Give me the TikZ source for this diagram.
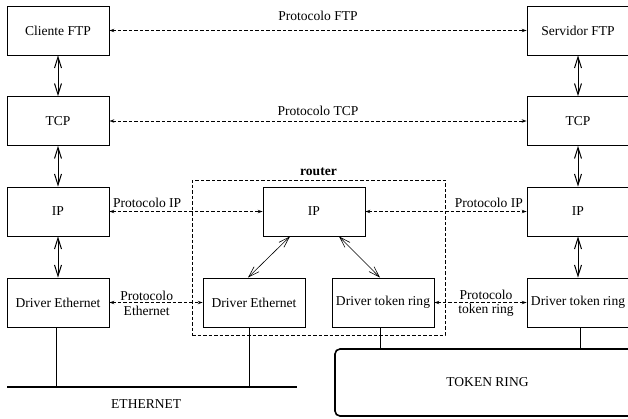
\documentclass[tikz,border=0pt]{standalone}
\usepackage{fontspec}
\setmainfont{Liberation Serif}
\usepackage{tikz}
\usetikzlibrary{arrows.meta}
\newcommand{\figfont}{\fontsize{13.6}{14.5}\selectfont}

\begin{document}
\begin{tikzpicture}[x=1bp, y=-1bp, font=\figfont,
    layer/.style={draw, line width=0.8bp, minimum width=102bp, minimum height=49bp,
                  inner sep=0pt, align=center},
    stack/.style={line width=1bp,
                  {Straight Barb[length=11bp,width=7bp]}-{Straight Barb[length=11bp,width=7bp]}},
    peer/.style={line width=0.8bp, dash pattern=on 3.5bp off 2bp,
                 {Stealth[open,length=5bp,width=3.5bp]}-{Stealth[open,length=5bp,width=3.5bp]}},
    link/.style={line width=0.8bp}]
  \useasboundingbox (0,0) rectangle (628,418);

  % host cliente
  \node[layer] (cliente) at (58,30.5) {Cliente FTP};
  \node[layer] (tcpA) at (58,121) {TCP};
  \node[layer] (ipA) at (58,211.5) {IP};
  \node[layer] (drvA) at (58,302.5) {Driver Ethernet};

  % host servidor
  \node[layer] (servidor) at (578,30.5) {Servidor FTP};
  \node[layer] (tcpB) at (578,121) {TCP};
  \node[layer] (ipB) at (578,211.5) {IP};
  \node[layer] (drvB) at (578,302.5) {Driver token ring};

  % router
  \node[draw, line width=0.8bp, dash pattern=on 3.5bp off 2bp, minimum width=253bp,
        minimum height=155bp, label={[font=\figfont\bfseries, label distance=0bp]above:router}]
        (router) at (318.5,257.5) {};
  \node[layer] (rip) at (314,211.5) {IP};
  \node[layer] (reth) at (254,302.5) {Driver Ethernet};
  \node[layer] (rtok) at (383,302.5) {Driver token ring};

  \draw[stack] (cliente) -- (tcpA);
  \draw[stack] (tcpA) -- (ipA);
  \draw[stack] (ipA) -- (drvA);
  \draw[stack] (servidor) -- (tcpB);
  \draw[stack] (tcpB) -- (ipB);
  \draw[stack] (ipB) -- (drvB);
  \draw[stack, line width=0.6bp] ([xshift=-24bp]rip.south) -- ([xshift=-6bp]reth.north);
  \draw[stack, line width=0.6bp] ([xshift=25bp]rip.south) -- ([xshift=-3bp]rtok.north);

  \draw[peer] (cliente) -- node[above=6bp]{Protocolo FTP} (servidor);
  \draw[peer] (tcpA) -- node[above=2bp]{Protocolo TCP} (tcpB);
  \draw[peer] (ipA) -- node[above right, pos=0]{Protocolo IP} (rip);
  \draw[peer] (rip) -- node[above left, pos=1]{Protocolo IP} (ipB);
  \draw[peer] (drvA) -- node[pos=.4, align=center, inner sep=1bp, yshift=-1bp]{Protocolo\\Ethernet} (reth);
  \draw[peer] (rtok) -- node[pos=.56, align=center, inner sep=1bp, yshift=-1bp]{Protocolo\\token ring} (drvB);

  % redes
  \coordinate (ethL) at (7,387);
  \coordinate (ethR) at (297,387);
  \draw[line width=2bp] (ethL) -- node[pos=.48, below=8bp]{ETHERNET} (ethR);
  \draw[link] ([xshift=-2bp]drvA.south) -- ([xshift=-2bp]drvA.south |- ethL);
  \draw[link] ([xshift=-5bp]reth.south) -- ([xshift=-5bp]reth.south |- ethL);
  \node[draw, line width=1.6bp, rounded corners=5bp, minimum width=305bp,
        minimum height=67bp] (ring) at (487.5,382.5) {TOKEN RING};
  \draw[link] ([xshift=-3bp]rtok.south) -- ([xshift=-3bp]rtok.south |- ring.north);
  \draw[link] ([xshift=2bp]drvB.south) -- ([xshift=2bp]drvB.south |- ring.north);
\end{tikzpicture}
\end{document}
